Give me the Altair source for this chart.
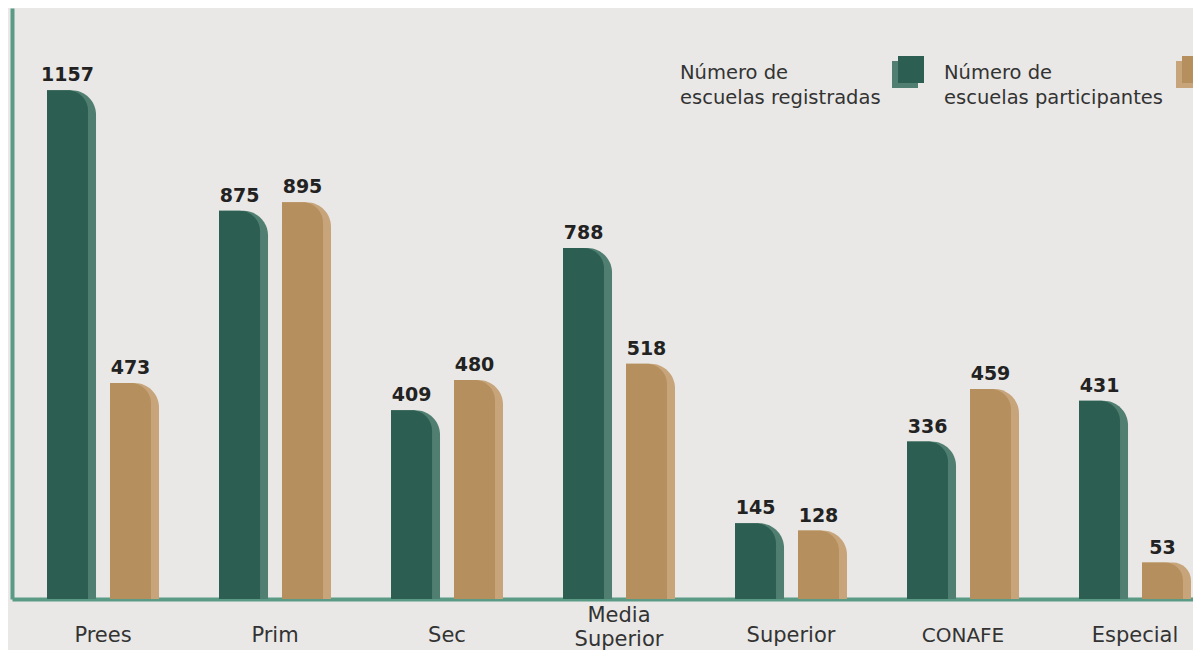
import altair as alt
import pandas as pd

categories = ["Prees", "Prim", "Sec", "Media\nSuperior", "Superior", "CONAFE", "Especial"]
registradas = [1157, 875, 409, 788, 145, 336, 431]
participantes = [473, 895, 480, 518, 128, 459, 53]
series = ["Número de escuelas registradas", "Número de escuelas participantes"]
legend_text = ["Número de\nescuelas registradas", "Número de\nescuelas participantes"]
main_colors = ["#2c5f51", "#b58f5e"]
shade_colors = ["#507e70", "#c7a479"]

rows = []
for c, r, p in zip(categories, registradas, participantes):
    rows.append({"cat": c, "serie": series[0], "valor": r})
    rows.append({"cat": c, "serie": series[1], "valor": p})
df = pd.DataFrame(rows)

FONT = "DejaVu Sans"
AXIS_GREEN = "#5b9b85"
BASE = -32
MULTI = "indexof(datum.value, '\\n') >= 0"

x_enc = alt.X(
    "cat:N",
    sort=categories,
    scale=alt.Scale(type="band", paddingInner=0.349, paddingOuter=0.1076, align=0.946),
    axis=alt.Axis(
        title=None,
        ticks=False,
        tickSize=0,
        grid=False,
        labelAngle=0,
        labelFont=FONT,
        labelFontSize={"condition": {"test": "datum.value === 'CONAFE'", "value": 20}, "value": 21},
        labelColor="#333333",
        labelPadding={"condition": {"test": MULTI, "value": 28}, "value": 36},
        labelBaseline={"condition": {"test": MULTI, "value": "line-bottom"}, "value": "middle"},
        labelLineHeight=24,
        labelExpr="split(datum.label, '\\n')",
        domainColor=AXIS_GREEN,
        domainWidth=4,
    ),
)
# full-width bars (with the lighter edge) fill each sub-band
xoff_back = alt.XOffset("serie:N", sort=series,
                        scale=alt.Scale(type="band", paddingInner=0.222, paddingOuter=0))
# front bars: narrower, left-aligned in the same sub-band


def xoff_front():
    return alt.XOffset("serie:N", sort=series,
                       scale=alt.Scale(type="band", paddingInner=0.349,
                                       paddingOuter=0.0635, align=0))


y_enc = alt.Y(
    "valor:Q",
    scale=alt.Scale(domain=[BASE, 1349], nice=False, zero=False),
    axis=alt.Axis(title=None, labels=False, ticks=False, grid=False,
                  domainColor=AXIS_GREEN, domainWidth=4),
)

base = alt.Chart(df)

back = base.mark_bar(cornerRadiusTopRight=30).encode(
    x=x_enc, xOffset=xoff_back, y=y_enc, y2=alt.datum(BASE),
    color=alt.Color("serie:N", scale=alt.Scale(domain=series, range=shade_colors), legend=None),
)
front = base.mark_bar(cornerRadiusTopRight=28).encode(
    x=x_enc, xOffset=xoff_front(), y=y_enc, y2=alt.datum(BASE),
    fill=alt.Fill("serie:N", scale=alt.Scale(domain=series, range=main_colors), legend=None),
)
labels = base.mark_text(
    dy=-9, baseline="alphabetic", fontSize=19, fontWeight="bold",
    font=FONT, color="#222222",
).encode(x=x_enc, xOffset=xoff_front(), y=y_enc, text=alt.Text("valor:Q", format="d"))

legend_layers = []
legend_pos = [(668, 880), (932, 1164)]
for i, (tx, sx) in enumerate(legend_pos):
    d = pd.DataFrame({"t": [legend_text[i]]})
    legend_layers.append(
        alt.Chart(d).mark_rect(color=shade_colors[i]).encode(
            x=alt.value(sx), x2=alt.value(sx + 26), y=alt.value(53), y2=alt.value(80))
    )
    legend_layers.append(
        alt.Chart(d).mark_rect(color=main_colors[i]).encode(
            x=alt.value(sx + 6), x2=alt.value(sx + 32), y=alt.value(48), y2=alt.value(75))
    )
    legend_layers.append(
        alt.Chart(d).mark_text(
            align="left", baseline="alphabetic", fontSize=19.5, font=FONT,
            color="#333333", lineBreak="\n", lineHeight=25,
        ).encode(x=alt.value(tx), y=alt.value(71), text="t:N")
    )

chart = alt.layer(back, front, labels, *legend_layers).resolve_scale(
    color="independent", fill="independent", xOffset="independent"
).properties(
    width=1181, height=591,
    padding={"left": 4, "top": 0, "right": 0, "bottom": 51},
    autosize=alt.AutoSizeParams(type="none"),
    background="#e9e8e6",
).configure_view(stroke=None)

chart.save("out.html", embed_options={"renderer": "svg", "actions": False})
